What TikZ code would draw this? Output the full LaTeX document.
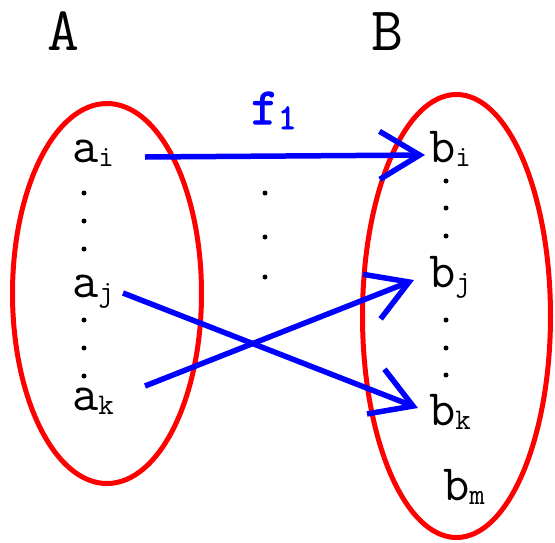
\documentclass[tikz,border=0pt]{standalone}
\usepackage{fontspec}
\newfontfamily\heavymono[FakeBold=2.5]{Latin Modern Mono}
\usetikzlibrary{shapes.geometric,arrows.meta}
\definecolor{setred}{RGB}{255,0,0}
\definecolor{mapblue}{RGB}{0,0,255}
\newcommand{\sbs}[1]{\raisebox{-4pt}{\fontsize{30}{30}\selectfont #1}}
\tikzset{
  setellipse/.style={ellipse, draw=setred, line width=5pt, inner sep=0pt},
  elem/.style={anchor=base west, inner sep=0pt, font=\ttfamily\fontsize{51}{51}\selectfont},
  setname/.style={anchor=base, inner sep=0pt, font=\ttfamily\fontsize{62}{62}\selectfont},
  mapline/.style={draw=mapblue, line width=5.5pt, -{Straight Barb[length=40pt,width=48pt]}},
  dotmark/.style={circle, fill=black, inner sep=0pt, minimum size=5pt}
}
\begin{document}
\begin{tikzpicture}[x=1pt,y=-1pt]
\useasboundingbox (0,0) rectangle (555,542);
% sets
\node[setellipse, minimum width=189pt, minimum height=380pt] (SA) at (107,293.5) {};
\node[setellipse, minimum width=188pt, minimum height=443pt] (SB) at (456.5,316) {};
% set names
\node[setname] (labA) at (63,50) {A};
\node[setname] (labB) at (387,50) {B};
% map label
\node[anchor=base west, inner sep=0pt, text=mapblue, font=\heavymono\fontsize{52}{52}\selectfont] (f1) at (251,124) {f\raisebox{-5pt}{\fontsize{36}{36}\selectfont 1}};
% elements of A
\node[elem] (ai) at (72,162) {a\sbs{i}};
\node[elem] (aj) at (72,297) {a\sbs{j}};
\node[elem] (ak) at (72,410) {a\sbs{k}};
% elements of B
\node[elem] (bi) at (429,162) {b\sbs{i}};
\node[elem] (bj) at (429,287) {b\sbs{j}};
\node[elem] (bk) at (429,425) {b\sbs{k}};
\node[elem] (bm) at (443,500) {b\sbs{m}};
% dots
\foreach \y [count=\n] in {193,221,249,320,348,376} \node[dotmark] (da\n) at (84,\y) {};
\foreach \y [count=\n] in {193,237,277} \node[dotmark] (dm\n) at (265,\y) {};
\foreach \y [count=\n] in {181,208,236,320,348,375} \node[dotmark] (db\n) at (446,\y) {};
% connector end points
\coordinate (ai-out) at (145,157);
\coordinate (bi-in) at (425,155);
\coordinate (aj-out) at (123,293);
\coordinate (bk-in) at (418,408);
\coordinate (ak-out) at (145,386);
\coordinate (bj-in) at (414,280);
% mappings
\draw[mapline] (ai-out) -- (bi-in);
\draw[mapline] (aj-out) -- (bk-in);
\draw[mapline] (ak-out) -- (bj-in);
\end{tikzpicture}
\end{document}
